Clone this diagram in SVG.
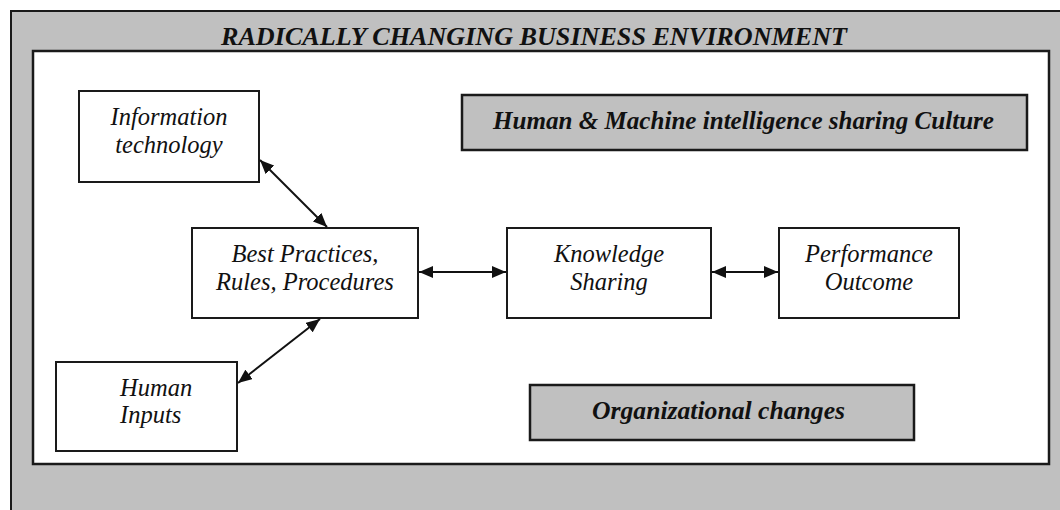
<svg xmlns="http://www.w3.org/2000/svg" width="1060" height="510" viewBox="0 0 1060 510">
  <defs>
    <style>
      .frame { fill: #c0c0c0; stroke: #1a1a1a; stroke-width: 2; }
      .inner { fill: #ffffff; stroke: #1a1a1a; stroke-width: 2.5; }
      .box { fill: #ffffff; stroke: #1a1a1a; stroke-width: 2; }
      .shaded { fill: #c0c0c0; stroke: #1a1a1a; stroke-width: 2.5; }
      .label { font-family: "Liberation Serif", "Times New Roman", serif; font-style: italic; font-size: 24.5px; fill: #111; text-anchor: middle; }
      .left { text-anchor: start; }
      .strong { font-family: "Liberation Serif", "Times New Roman", serif; font-style: italic; font-weight: bold; font-size: 25.5px; fill: #111; }
      .link { stroke: #111; stroke-width: 2; fill: none; marker-start: url(#head); marker-end: url(#head); }
    </style>
    <marker id="head" viewBox="0 0 14 12" refX="14" refY="6" markerWidth="14" markerHeight="12" markerUnits="userSpaceOnUse" orient="auto-start-reverse">
      <path d="M0,0 L14,6 L0,12 Z" fill="#111"/>
    </marker>
  </defs>

  <!-- environment frame -->
  <g id="environment">
    <rect class="frame" x="11" y="11" width="1100" height="600"/>
    <text class="strong" x="221" y="45" textLength="626" lengthAdjust="spacingAndGlyphs">RADICALLY CHANGING BUSINESS ENVIRONMENT</text>
    <rect class="inner" x="33" y="51" width="1016" height="413"/>
  </g>

  <g id="information-technology">
    <rect class="box" x="79" y="91" width="180" height="91"/>
    <text class="label" x="169" y="125">Information</text>
    <text class="label" x="169" y="153">technology</text>
  </g>

  <g id="best-practices">
    <rect class="box" x="192" y="228" width="226" height="90"/>
    <text class="label" x="305" y="262">Best Practices,</text>
    <text class="label" x="305" y="290">Rules, Procedures</text>
  </g>

  <g id="human-inputs">
    <rect class="box" x="56" y="362" width="181" height="89"/>
    <text class="label left" x="120" y="396">Human</text>
    <text class="label left" x="120" y="423">Inputs</text>
  </g>

  <g id="knowledge-sharing">
    <rect class="box" x="507" y="228" width="204" height="90"/>
    <text class="label" x="609" y="262">Knowledge</text>
    <text class="label" x="609" y="290">Sharing</text>
  </g>

  <g id="performance-outcome">
    <rect class="box" x="779" y="228" width="180" height="90"/>
    <text class="label" x="869" y="262">Performance</text>
    <text class="label" x="869" y="290">Outcome</text>
  </g>

  <g id="culture">
    <rect class="shaded" x="462" y="95" width="565" height="55"/>
    <text class="strong" x="493" y="129" textLength="501" lengthAdjust="spacingAndGlyphs">Human &amp; Machine intelligence sharing Culture</text>
  </g>

  <g id="organizational-changes">
    <rect class="shaded" x="530" y="385" width="384" height="55"/>
    <text class="strong" x="592" y="419" textLength="253" lengthAdjust="spacingAndGlyphs">Organizational changes</text>
  </g>

  <!-- connectors -->
  <g id="connectors">
    <line class="link" x1="260" y1="160" x2="327" y2="227"/>
    <line class="link" x1="238" y1="383" x2="320" y2="319"/>
    <line class="link" x1="419" y1="272" x2="506" y2="272"/>
    <line class="link" x1="712" y1="272" x2="778" y2="272"/>
  </g>
</svg>
